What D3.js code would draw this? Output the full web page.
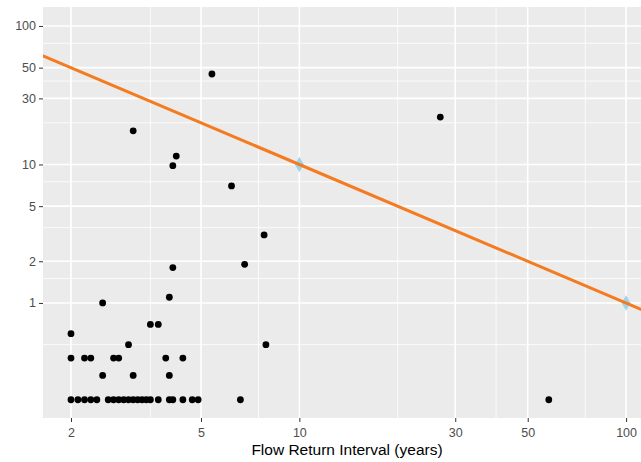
<!DOCTYPE html>
<html>
<head>
<meta charset="utf-8">
<script src="https://cdn.jsdelivr.net/npm/d3@7"></script>
<style>
  html, body { margin: 0; padding: 0; background: #ffffff; }
  svg { display: block; }
</style>
</head>
<body>
<svg id="chart" width="641" height="462"></svg>
<script>
// ---- data ----
const returnInterval = [
  2.0, 2.1, 2.2, 2.3, 2.4, 2.6, 2.7, 2.8, 2.9, 3.0, 3.1, 3.2, 3.3, 3.4, 3.5, 3.7, 4.0, 4.1, 4.4, 4.7, 4.9, 6.6, 58,
  2.5, 3.1, 4.0,
  2.0, 2.2, 2.3, 2.7, 2.8, 3.9, 4.4,
  3.0, 7.9,
  2.0,
  3.5, 3.7,
  2.5, 4.0, 4.1, 6.8, 7.8, 6.2, 4.1, 4.2, 3.1, 27, 5.4
];
const responseValue = [
  0.2, 0.2, 0.2, 0.2, 0.2, 0.2, 0.2, 0.2, 0.2, 0.2, 0.2, 0.2, 0.2, 0.2, 0.2, 0.2, 0.2, 0.2, 0.2, 0.2, 0.2, 0.2, 0.2,
  0.3, 0.3, 0.3,
  0.4, 0.4, 0.4, 0.4, 0.4, 0.4, 0.4,
  0.5, 0.5,
  0.6,
  0.7, 0.7,
  1.0, 1.1, 1.8, 1.9, 3.1, 7.0, 9.8, 11.5, 17.5, 22, 45
];
// reference points (diamonds) and reference line y = 100 / x
const refX = [10, 100];
const refY = [10, 1];
const lineX = [1.5, 130];
const lineY = lineX.map(v => 100 / v);

const xBreaks = [2, 5, 10, 30, 50, 100];
const xMinor = [3.5, 7.5, 20, 40, 75];
const yBreaks = [1, 2, 5, 10, 30, 50, 100];
const yMinor = [0.5, 1.5, 3.5, 7.5, 20, 40, 75];
const xTitle = "Flow Return Interval (years)";

// ---- layout ----
const panel = { left: 43, right: 651, top: 7, bottom: 418 };
const svg = d3.select("#chart");

const x = d3.scaleLog().domain([1.642, 119.2]).range([panel.left, panel.right]);
const y = d3.scaleLog().domain([0.1477, 137.1]).range([panel.bottom, panel.top]);

svg.append("rect").attr("width", 641).attr("height", 462).attr("fill", "#ffffff");

svg.append("clipPath").attr("id", "clip")
  .append("rect")
  .attr("x", panel.left).attr("y", panel.top)
  .attr("width", panel.right - panel.left).attr("height", panel.bottom - panel.top);

const g = svg.append("g").attr("clip-path", "url(#clip)");

g.append("rect")
  .attr("x", panel.left).attr("y", panel.top)
  .attr("width", panel.right - panel.left).attr("height", panel.bottom - panel.top)
  .attr("fill", "#EBEBEB");

// minor grid
g.selectAll(".ymin").data(yMinor).enter().append("line")
  .attr("x1", panel.left).attr("x2", panel.right)
  .attr("y1", d => y(d)).attr("y2", d => y(d))
  .attr("stroke", "#ffffff").attr("stroke-width", 0.8);
g.selectAll(".xmin").data(xMinor).enter().append("line")
  .attr("y1", panel.top).attr("y2", panel.bottom)
  .attr("x1", d => x(d)).attr("x2", d => x(d))
  .attr("stroke", "#ffffff").attr("stroke-width", 0.8);
// major grid
g.selectAll(".ymaj").data(yBreaks).enter().append("line")
  .attr("x1", panel.left).attr("x2", panel.right)
  .attr("y1", d => y(d)).attr("y2", d => y(d))
  .attr("stroke", "#ffffff").attr("stroke-width", 1.6);
g.selectAll(".xmaj").data(xBreaks).enter().append("line")
  .attr("y1", panel.top).attr("y2", panel.bottom)
  .attr("x1", d => x(d)).attr("x2", d => x(d))
  .attr("stroke", "#ffffff").attr("stroke-width", 1.6);

// points
g.selectAll(".pt").data(returnInterval.map((v, i) => [v, responseValue[i]])).enter()
  .append("circle")
  .attr("cx", d => x(d[0])).attr("cy", d => y(d[1]))
  .attr("r", 3.4).attr("fill", "#000000");

// diamonds
const diamond = d3.symbol().type(d3.symbolDiamond).size(70);
g.selectAll(".dm").data(refX.map((v, i) => [v, refY[i]])).enter()
  .append("path")
  .attr("d", diamond)
  .attr("transform", d => `translate(${x(d[0])},${y(d[1])})`)
  .attr("fill", "#9FD3EC");

// reference line
g.append("path")
  .datum(lineX.map((v, i) => [v, lineY[i]]))
  .attr("d", d3.line().x(d => x(d[0])).y(d => y(d[1])))
  .attr("fill", "none").attr("stroke", "#F47B20").attr("stroke-width", 3);

// axes
const xAxis = d3.axisBottom(x).tickValues(xBreaks).tickFormat(d3.format("d")).tickSize(4).tickPadding(6);
const yAxis = d3.axisLeft(y).tickValues(yBreaks).tickFormat(d3.format("d")).tickSize(4).tickPadding(3);

const gx = svg.append("g").attr("transform", `translate(0,${panel.bottom})`).call(xAxis);
const gy = svg.append("g").attr("transform", `translate(${panel.left},0)`).call(yAxis);
[gx, gy].forEach(a => {
  a.select(".domain").remove();
  a.selectAll(".tick line").attr("stroke", "#333333").attr("stroke-width", 1);
  a.selectAll(".tick text").attr("fill", "#4D4D4D")
    .style("font-family", "Liberation Sans, Arial, sans-serif").style("font-size", "12.5px");
});

svg.append("text")
  .attr("x", (panel.left + panel.right) / 2).attr("y", 455)
  .attr("text-anchor", "middle")
  .attr("fill", "#000000")
  .style("font-family", "Liberation Sans, Arial, sans-serif").style("font-size", "15.5px")
  .text(xTitle);
</script>
</body>
</html>
